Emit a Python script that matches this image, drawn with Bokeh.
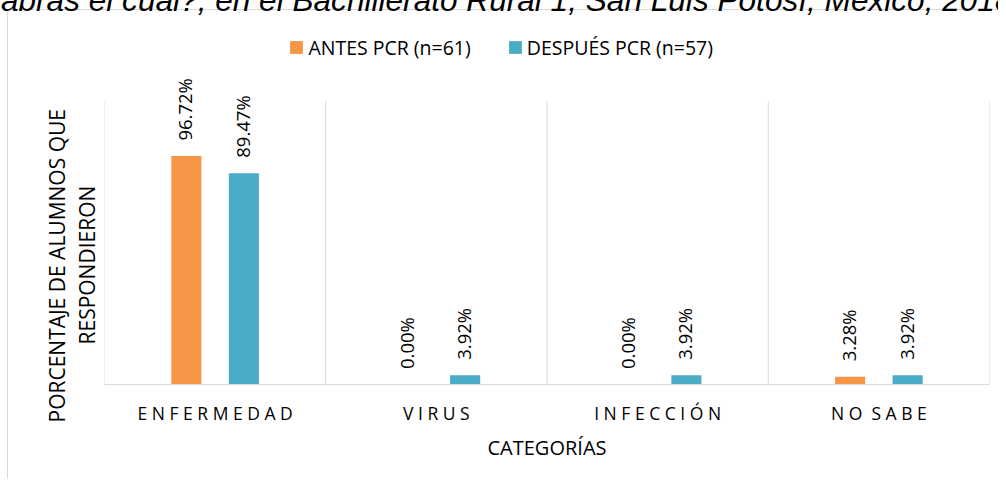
from math import pi
from bokeh.plotting import figure
from bokeh.models import (ColumnDataSource, Range1d, Legend, LegendItem, FixedTicker, Title)
from bokeh.transform import dodge
from bokeh.core.properties import value
from bokeh.embed import file_html
from bokeh.resources import INLINE

# ---- data ----
categories = ["ENFERMEDAD", "VIRUS", "INFECCIÓN", "NO SABE"]
antes = [96.72, 0.00, 0.00, 3.28]
despues = [89.47, 3.92, 3.92, 3.92]
series_names = ["ANTES PCR (n=61)", "DESPUÉS PCR (n=57)"]
colors = ["#F79646", "#4BACC6"]
y_max = 120
caption = "palabras el cuál?, en el Bachillerato Rural 1, San Luis Potosí, México, 2018"
y_title_lines = ["PORCENTAJE DE ALUMNOS QUE", "RESPONDIERON"]
x_title = "CATEGORÍAS"

FONT = "Open Sans"
GRAY = "#d9d9d9"
Y_VIEW = 162.2          # visible value span: frame reaches the top of the canvas
n = len(categories)
centers = [i + 0.5 for i in range(n)]


def spaced(s):
    return "\u00a0 ".join(" ".join(list(w)) for w in s.split(" "))


src = ColumnDataSource(dict(
    xc=centers,
    cat=categories,
    antes=antes,
    despues=despues,
    antes_lbl=[f"{v:.2f}%" for v in antes],
    despues_lbl=[f"{v:.2f}%" for v in despues],
))

p = figure(x_range=Range1d(0, n), y_range=Range1d(0, Y_VIEW),
           width=998, height=479, output_backend="svg", toolbar_location=None,
           y_axis_location=None, title_location=None,
           min_border_left=104, min_border_right=9, min_border_top=0,
           min_border_bottom=95)
p.outline_line_color = None
p.background_fill_color = None
p.border_fill_color = None
p.xgrid.visible = False
p.ygrid.visible = False
# outer chart border (light grey left and top edges)
p.styles = {
    "background-color": "white",
    "background-image": f"linear-gradient({GRAY}, {GRAY}), linear-gradient({GRAY}, {GRAY})",
    "background-size": "1px 100%, 100% 1px",
    "background-position": "7px 9px, 7px 9px",
    "background-repeat": "no-repeat",
}

ax = p.xaxis[0]
ax.ticker = FixedTicker(ticks=centers)
ax.axis_line_color = GRAY
ax.axis_line_width = 1
ax.major_tick_line_color = None
ax.minor_tick_line_color = None
ax.major_label_overrides = {c: spaced(cat) for c, cat in zip(centers, categories)}
ax.major_label_text_font = FONT
ax.major_label_text_font_size = "17.5px"
ax.major_label_text_color = "#000000"
ax.major_label_standoff = 10
ax.axis_label = x_title
ax.axis_label_text_font = FONT
ax.axis_label_text_font_size = "20px"
ax.axis_label_text_font_style = "normal"
ax.axis_label_text_color = "#000000"
ax.axis_label_standoff = 6

# category separators from 0 up to the axis maximum
bounds = list(range(n + 1))
p.segment(x0=bounds, y0=[0] * len(bounds), x1=bounds, y1=[y_max] * len(bounds),
          line_color=GRAY, line_width=1)

off = 0.13
bw = 0.136
r1 = p.vbar(x=dodge("xc", -off), top="antes", width=bw, source=src,
            fill_color=colors[0], line_color=None)
r2 = p.vbar(x=dodge("xc", off), top="despues", width=bw, source=src,
            fill_color=colors[1], line_color=None)

for xo, col in [(-off, "antes"), (off, "despues")]:
    p.text(x=dodge("xc", xo), y=col, text=col + "_lbl", source=src,
           angle=pi / 2, text_align="left", text_baseline="middle",
           x_offset=-1.5, y_offset=-15.5,
           text_font=value(FONT), text_font_size="18.5px", text_color="#000000")

legend = Legend(items=[LegendItem(label=series_names[0], renderers=[r1]),
                       LegendItem(label=series_names[1], renderers=[r2])],
                orientation="horizontal", location=(184.4, 323.5),
                glyph_width=16, glyph_height=16, label_standoff=4, spacing=36,
                padding=0, margin=0, border_line_color=None, background_fill_alpha=0,
                label_text_font=FONT, label_text_font_size="19.5px",
                label_text_color="#000000")
p.add_layout(legend)

# cut-off caption of the source figure, hanging from the top edge
p.add_layout(Title(text=caption, align="right", offset=-23, standoff=-37,
                   vertical_align="top", text_font="Liberation Sans",
                   text_font_style="italic", text_font_size="31.6px",
                   text_color="#000000"), "above")

# y axis title, two lines (nearest to frame first)
p.add_layout(Title(text=y_title_lines[1], align="left", offset=40, standoff=7,
                   text_font=FONT, text_font_size="21px", text_font_style="normal",
                   text_color="#000000"), "left")
p.add_layout(Title(text=y_title_lines[0], align="left", offset=-38, standoff=-6,
                   text_font=FONT, text_font_size="21px", text_font_style="normal",
                   text_color="#000000"), "left")

open("out.html", "w").write(file_html(p, INLINE))
